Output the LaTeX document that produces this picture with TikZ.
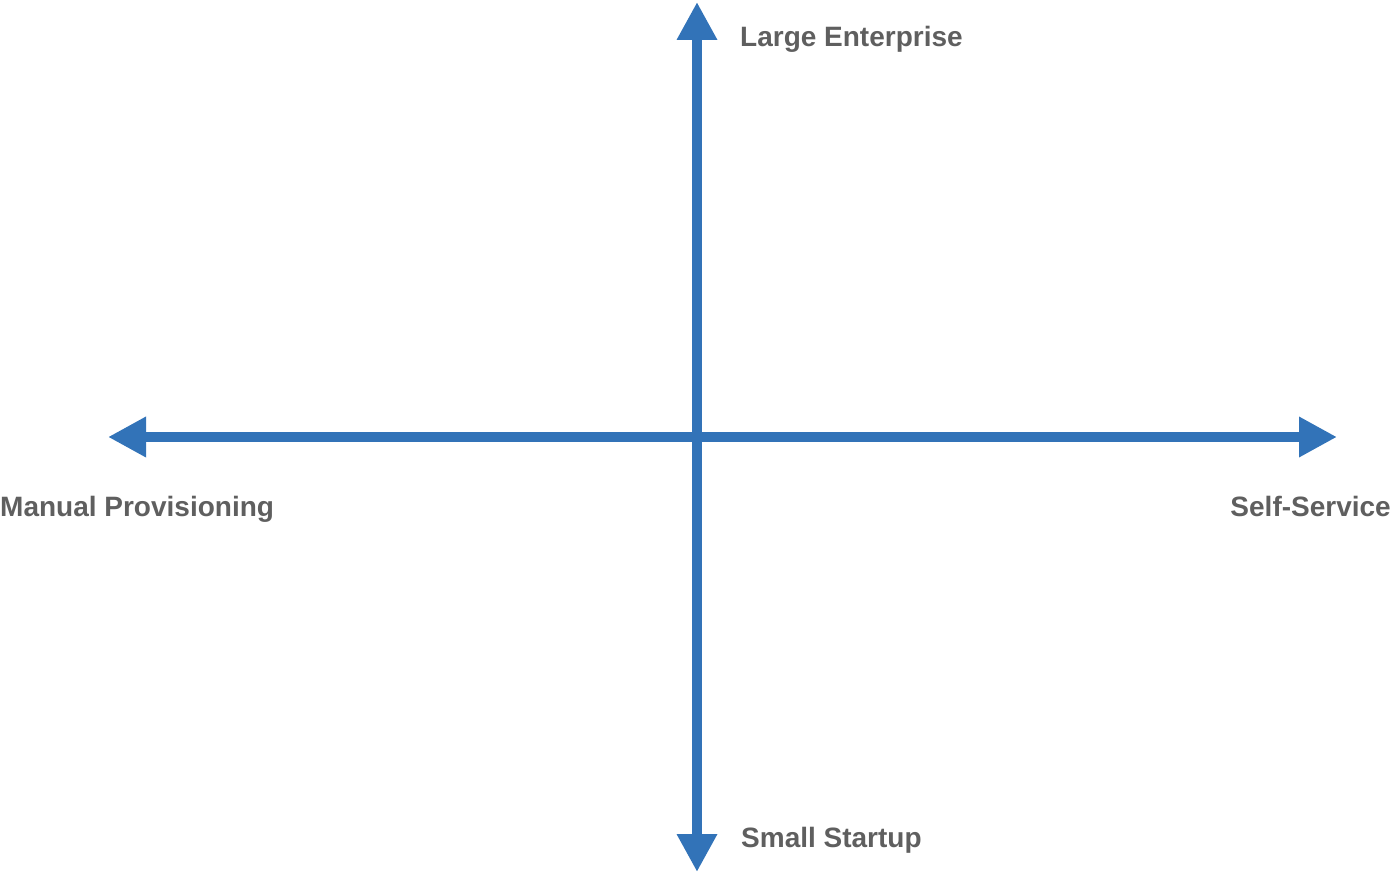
\documentclass[tikz,border=0pt]{standalone}
\usepackage{fontspec}
\setmainfont{Liberation Sans}
\usetikzlibrary{arrows.meta}
\definecolor{axisblue}{HTML}{3273B8}
\definecolor{labelgray}{HTML}{5F5F5F}
\begin{document}
\begin{tikzpicture}[x=1pt,y=-1pt,
  axisline/.style={draw=axisblue,line width=10pt,
    {Triangle[length=38pt 0 0,width=38pt 0 0,fill=axisblue]}-{Triangle[length=38pt 0 0,width=38pt 0 0,fill=axisblue]}},
  axislabel/.style={inner sep=0pt,text=labelgray,font=\fontsize{28}{32}\selectfont\bfseries}]
\useasboundingbox (0,0) rectangle (1393,874);
\coordinate (left) at (108,437);
\coordinate (right) at (1337,437);
\coordinate (top) at (697,2);
\coordinate (bottom) at (697,872);
\draw[axisline] (left) -- (right);
\draw[axisline] (top) -- (bottom);
\node[axislabel,anchor=base west] (large) at (740,47) {Large Enterprise};
\node[axislabel,anchor=base west] (manual) at (0,516) {Manual Provisioning};
\node[axislabel,anchor=base east] (self) at (1391,516) {Self-Service};
\node[axislabel,anchor=base west] (small) at (741,847) {Small Startup};
\end{tikzpicture}
\end{document}
